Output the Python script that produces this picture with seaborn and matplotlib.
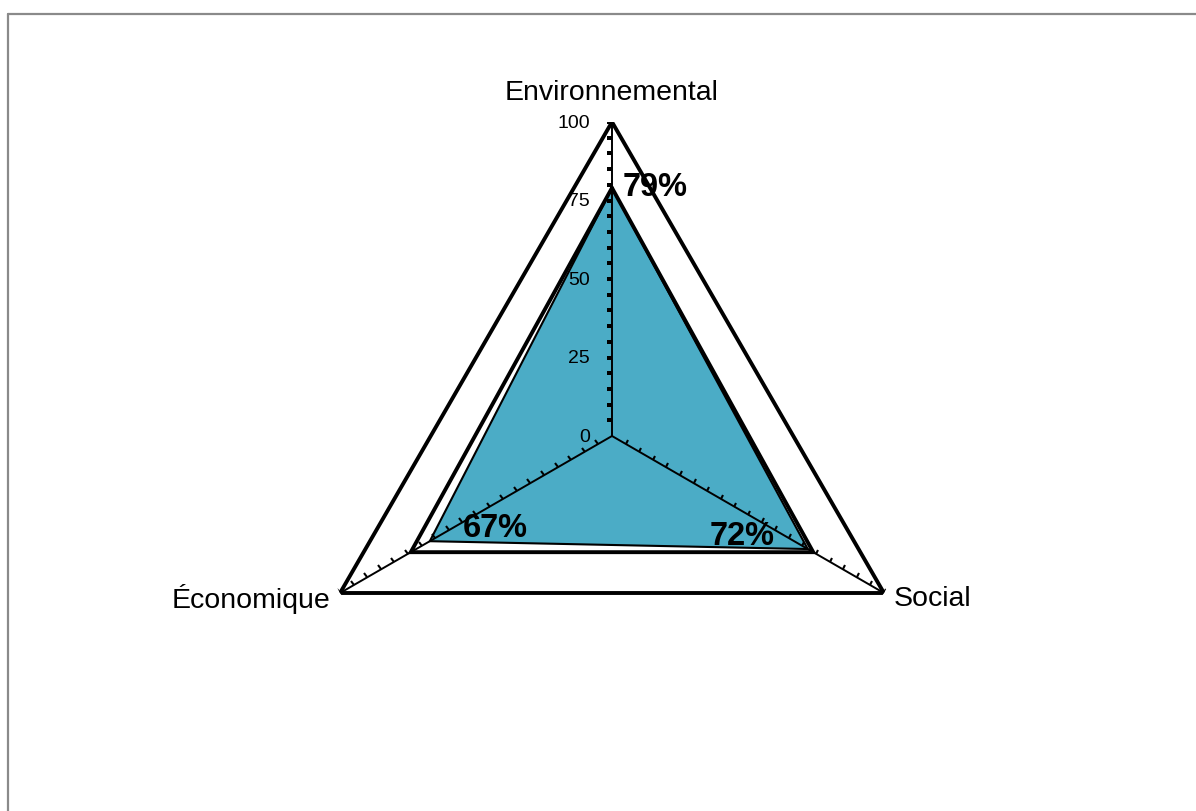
import numpy as np
import matplotlib
matplotlib.use("Agg")
import matplotlib.pyplot as plt
import seaborn as sns
from matplotlib.markers import MarkerStyle, TICKLEFT
from matplotlib.transforms import Affine2D
from matplotlib.lines import Line2D

# ---- data ----
categories = ["Environnemental", "Social", "Économique"]
scores = [79, 72, 67]          # filled series
reference = [79, 74, 74]       # black outline series
maximum = [100, 100, 100]      # outer frame
score_labels = ["79%", "72%", "67%"]
radial_ticks = [0, 25, 50, 75, 100]
minor_step = 5

sns.set_theme(style="white")
plt.rcParams["font.family"] = ["Liberation Sans", "DejaVu Sans"]
plt.rcParams["text.color"] = "black"

W, H = 1196, 811
fig = plt.figure(figsize=(W / 100, H / 100), dpi=100)
fig.patch.set_facecolor("white")

# gray frame (top + left visible)
fig.add_artist(Line2D([7.5 / W, 1.0], [1 - 14 / H, 1 - 14 / H], color="#8a8a8a", lw=1.6,
                      transform=fig.transFigure))
fig.add_artist(Line2D([7.5 / W, 7.5 / W], [0, 1 - 14 / H], color="#8a8a8a", lw=1.6,
                      transform=fig.transFigure))

cx, cy, R = 612, 436, 314
ax = fig.add_axes([(cx - R) / W, (H - cy - R) / H, 2 * R / W, 2 * R / H], projection="polar")
ax.set_theta_offset(np.pi / 2)
ax.set_theta_direction(-1)
ax.set_ylim(0, 100)
ax.grid(False)
ax.spines["polar"].set_visible(False)
ax.set_xticks([])
ax.set_yticks([])
ax.patch.set_alpha(0)

n = len(categories)
angles = np.arange(n) * 2 * np.pi / n
ang_c = np.concatenate([angles, angles[:1]])

def closed(v):
    return np.concatenate([v, v[:1]])

blue = "#4BACC6"
ax.fill(ang_c, closed(np.array(scores, float)), color=blue, zorder=1, lw=0)
ax.plot(ang_c, closed(np.array(scores, float)), color="black", lw=1.5, zorder=2,
        solid_joinstyle="miter")
ax.plot(ang_c, closed(np.array(reference, float)), color="black", lw=2.8, zorder=3,
        solid_joinstyle="miter")
ax.plot(ang_c, closed(np.array(maximum, float)), color="black", lw=2.8, zorder=3,
        solid_joinstyle="miter")

# radial axis lines
for a in angles:
    ax.plot([a, a], [0, 100], color="black", lw=1.4, zorder=4)

# minor ticks along each radial axis
tick_r = np.arange(minor_step, 100 + 0.1, minor_step)
rot = [0, -120, -60]  # screen rotation of a left-pointing tick for each axis
for a, rdeg in zip(angles, rot):
    ms = MarkerStyle(TICKLEFT, transform=Affine2D().rotate_deg(rdeg))
    ax.plot(np.full_like(tick_r, a), tick_r, ls="none", marker=ms, markersize=3.6,
            markeredgewidth=1.5, color="black", zorder=5)

# radial tick labels
for t in radial_ticks:
    ax.annotate(str(t), xy=(0, t), xytext=(-16, -1), textcoords="offset points",
                ha="right", va="center", fontsize=14, color="black")

# category labels
ax.annotate(categories[0], xy=(angles[0], 100), xytext=(0, 21), textcoords="offset points",
            ha="center", va="center", fontsize=20.5, color="black")
ax.annotate(categories[1], xy=(angles[1], 100), xytext=(7, -4), textcoords="offset points",
            ha="left", va="center", fontsize=20.5, color="black")
ax.annotate(categories[2], xy=(angles[2], 100), xytext=(-7, -4), textcoords="offset points",
            ha="right", va="center", fontsize=20.5, color="black")

# value labels
ax.annotate(score_labels[0], xy=(angles[0], scores[0]), xytext=(8, 0), textcoords="offset points",
            ha="left", va="center", fontsize=23.5, fontweight="bold", color="black", zorder=6)
ax.annotate(score_labels[1], xy=(angles[1], scores[1]), xytext=(-24, 9), textcoords="offset points",
            ha="right", va="center", fontsize=23.5, fontweight="bold", color="black", zorder=6)
ax.annotate(score_labels[2], xy=(angles[2], scores[2]), xytext=(24, 9), textcoords="offset points",
            ha="left", va="center", fontsize=23.5, fontweight="bold", color="black", zorder=6)

fig.savefig("out.png", dpi=100)
